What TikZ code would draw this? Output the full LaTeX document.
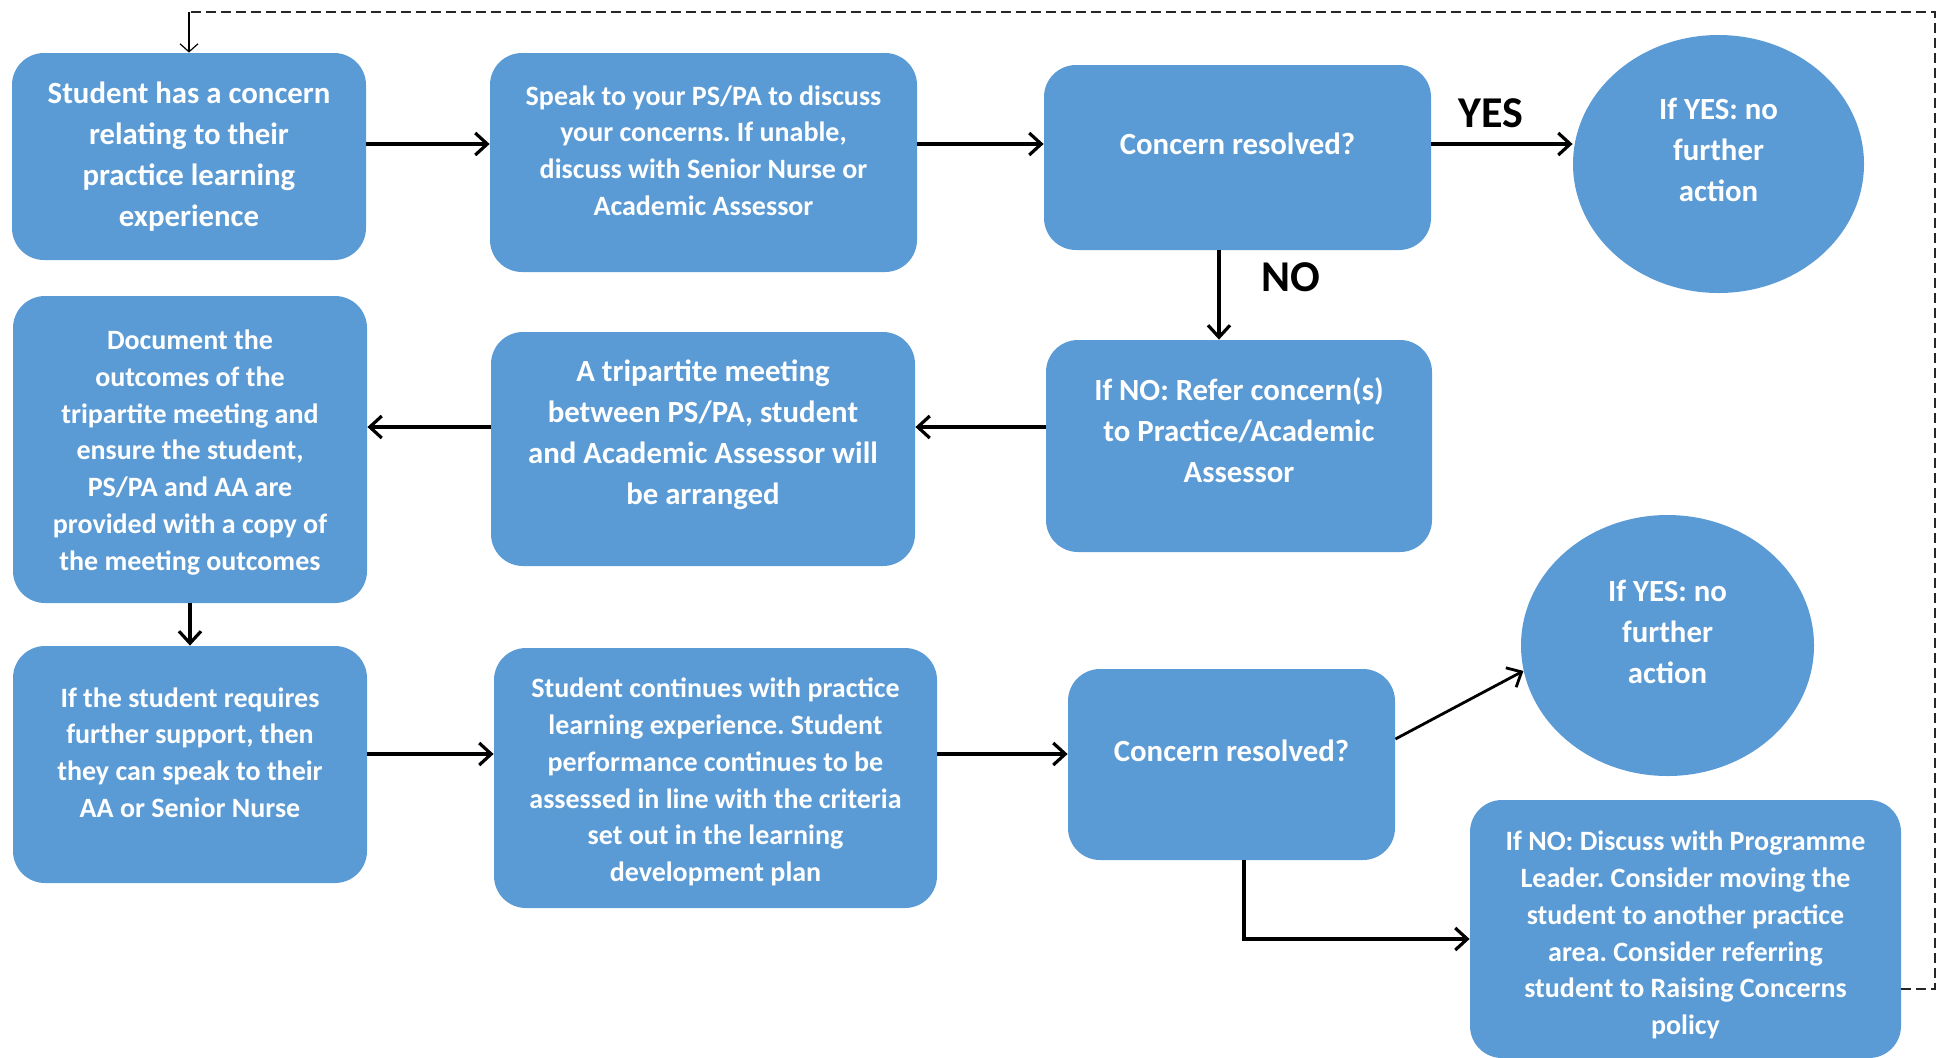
\documentclass[tikz,border=0pt]{standalone}
\usepackage{fontspec}
\setmainfont{Carlito}
\frenchspacing
\usetikzlibrary{shapes.geometric,arrows.meta,positioning}
\definecolor{stageblue}{RGB}{91,155,213}
\tikzset{
stage/.style={fill=stageblue, rounded corners=16pt, inner sep=0pt}, % rounded boxes
outcome/.style={ellipse, fill=stageblue, inner sep=0pt}, % end points
bigtxt/.style={text=white, align=center, font=\bfseries\fontsize{15.4}{20.5}\selectfont},
smalltxt/.style={text=white, align=center, font=\bfseries\fontsize{14}{18.4}\selectfont},
answer/.style={font=\bfseries\fontsize{22}{26}\selectfont},
flow/.style={line width=1.6pt, -{Straight Barb[length=6pt,width=11pt]}},
loopback/.style={line width=0.7pt, black!85, dash pattern=on 5pt off 2.5pt},
}

\begin{document}
\begin{tikzpicture}[x=0.5pt,y=-0.5pt]
   \useasboundingbox (0,0) rectangle (1939,1057);
   \coordinate (top) at (0,12);
   \coordinate (row1) at (0,144);
   \coordinate (row2) at (0,427);
   \coordinate (row3) at (0,754);
   % first row
   \node[stage, minimum width=177pt, minimum height=103.5pt,
     label={[bigtxt]center:{Student has a concern\\relating to their\\practice learning\\experience}}] (concern) at (189,156.5) {};
   \node[stage, minimum width=213.5pt, minimum height=109.5pt,
     label={[smalltxt,yshift=6pt]center:{Speak to your PS/PA to discuss\\your concerns. If unable,\\discuss with Senior Nurse or\\Academic Assessor}}] (speak) at (703.5,162.5) {};
   \node[stage, minimum width=193.5pt, minimum height=92.5pt,
     label={[bigtxt,yshift=7pt]center:{Concern resolved?}}] (res1) at (1237.5,157.5) {};
   \node[outcome, minimum width=145.5pt, minimum height=129pt,
     label={[bigtxt,yshift=7pt]center:{If YES: no\\further\\action}}] (yes1) at (1718.5,164) {};
   % second row
   \node[stage, minimum width=177pt, minimum height=153.5pt,
     label={[smalltxt,yshift=-1.5pt]center:{Document the\\outcomes of the\\tripartite meeting and\\ensure the student,\\PS/PA and AA are\\provided with a copy of\\the meeting outcomes}}] (document) at (190,449.5) {};
   \node[stage, minimum width=212pt, minimum height=117pt,
     label={[bigtxt,yshift=7pt]center:{A tripartite meeting\\between PS/PA, student\\and Academic Assessor will\\be arranged}}] (tripartite) at (703,449) {};
   \node[stage, minimum width=193pt, minimum height=106pt,
     label={[bigtxt,yshift=8pt]center:{If NO: Refer concern(s)\\to Practice/Academic\\Assessor}}] (refer) at (1239,446) {};
   % third row
   \node[stage, minimum width=177pt, minimum height=118.5pt,
     label={[smalltxt,yshift=6pt]center:{If the student requires\\further support, then\\they can speak to their\\AA or Senior Nurse}}] (further) at (190,764.5) {};
   \node[stage, minimum width=221.5pt, minimum height=130pt,
     label={[smalltxt,yshift=-2pt]center:{Student continues with practice\\learning experience. Student\\performance continues to be\\assessed in line with the criteria\\set out in the learning\\development plan}}] (continues) at (715.5,778) {};
   \node[stage, minimum width=163.5pt, minimum height=95.5pt,
     label={[bigtxt,yshift=7pt]center:{Concern resolved?}}] (res2) at (1231.5,764.5) {};
   \node[outcome, minimum width=146.5pt, minimum height=130.5pt,
     label={[bigtxt,yshift=7pt]center:{If YES: no\\further\\action}}] (yes2) at (1667.5,645.5) {};
   \node[stage, minimum width=215.5pt, minimum height=129pt,
     label={[smalltxt,yshift=-3pt]center:{If NO: Discuss with Programme\\Leader. Consider moving the\\student to another practice\\area. Consider referring\\student to Raising Concerns\\policy}}] (leader) at (1685.5,929) {};

   \draw[flow] (concern.east |- row1) -- (speak.west |- row1);
   \draw[flow] (speak.east |- row1) -- (res1.west |- row1);
   \draw[flow] (res1.east |- row1) -- node[answer, above=4pt, pos=0.42] {YES} (yes1.west |- row1);
   \draw[flow] ([xshift=-9.25pt]res1.south) -- node[answer, right=17pt, pos=0.3] {NO} ([xshift=-9.25pt]res1.south |- refer.north);
   \draw[flow] (refer.west |- row2) -- (tripartite.east |- row2);
   \draw[flow] (tripartite.west |- row2) -- (document.east |- row2);
   \draw[flow] (document) -- (further);
   \draw[flow] (further.east |- row3) -- (continues.west |- row3);
   \draw[flow] (continues.east |- row3) -- (res2.west |- row3);
   \draw[flow, line width=1.4pt] ([yshift=12.75pt]res2.east) -- (yes2.190);
   \draw[flow] ([xshift=6.25pt]res2.south) |- ([yshift=-5pt]leader.west);

   % back to the start
   \coordinate (back) at (concern.north |- top);
   \coordinate (corner) at (1935,12);
   \draw[loopback] ([yshift=-30pt]leader.east) -| (corner) -- (back);
   \draw[line width=0.6pt, -{Straight Barb[length=4pt,width=9pt]}] (back) -- (concern);
\end{tikzpicture}
\end{document}
